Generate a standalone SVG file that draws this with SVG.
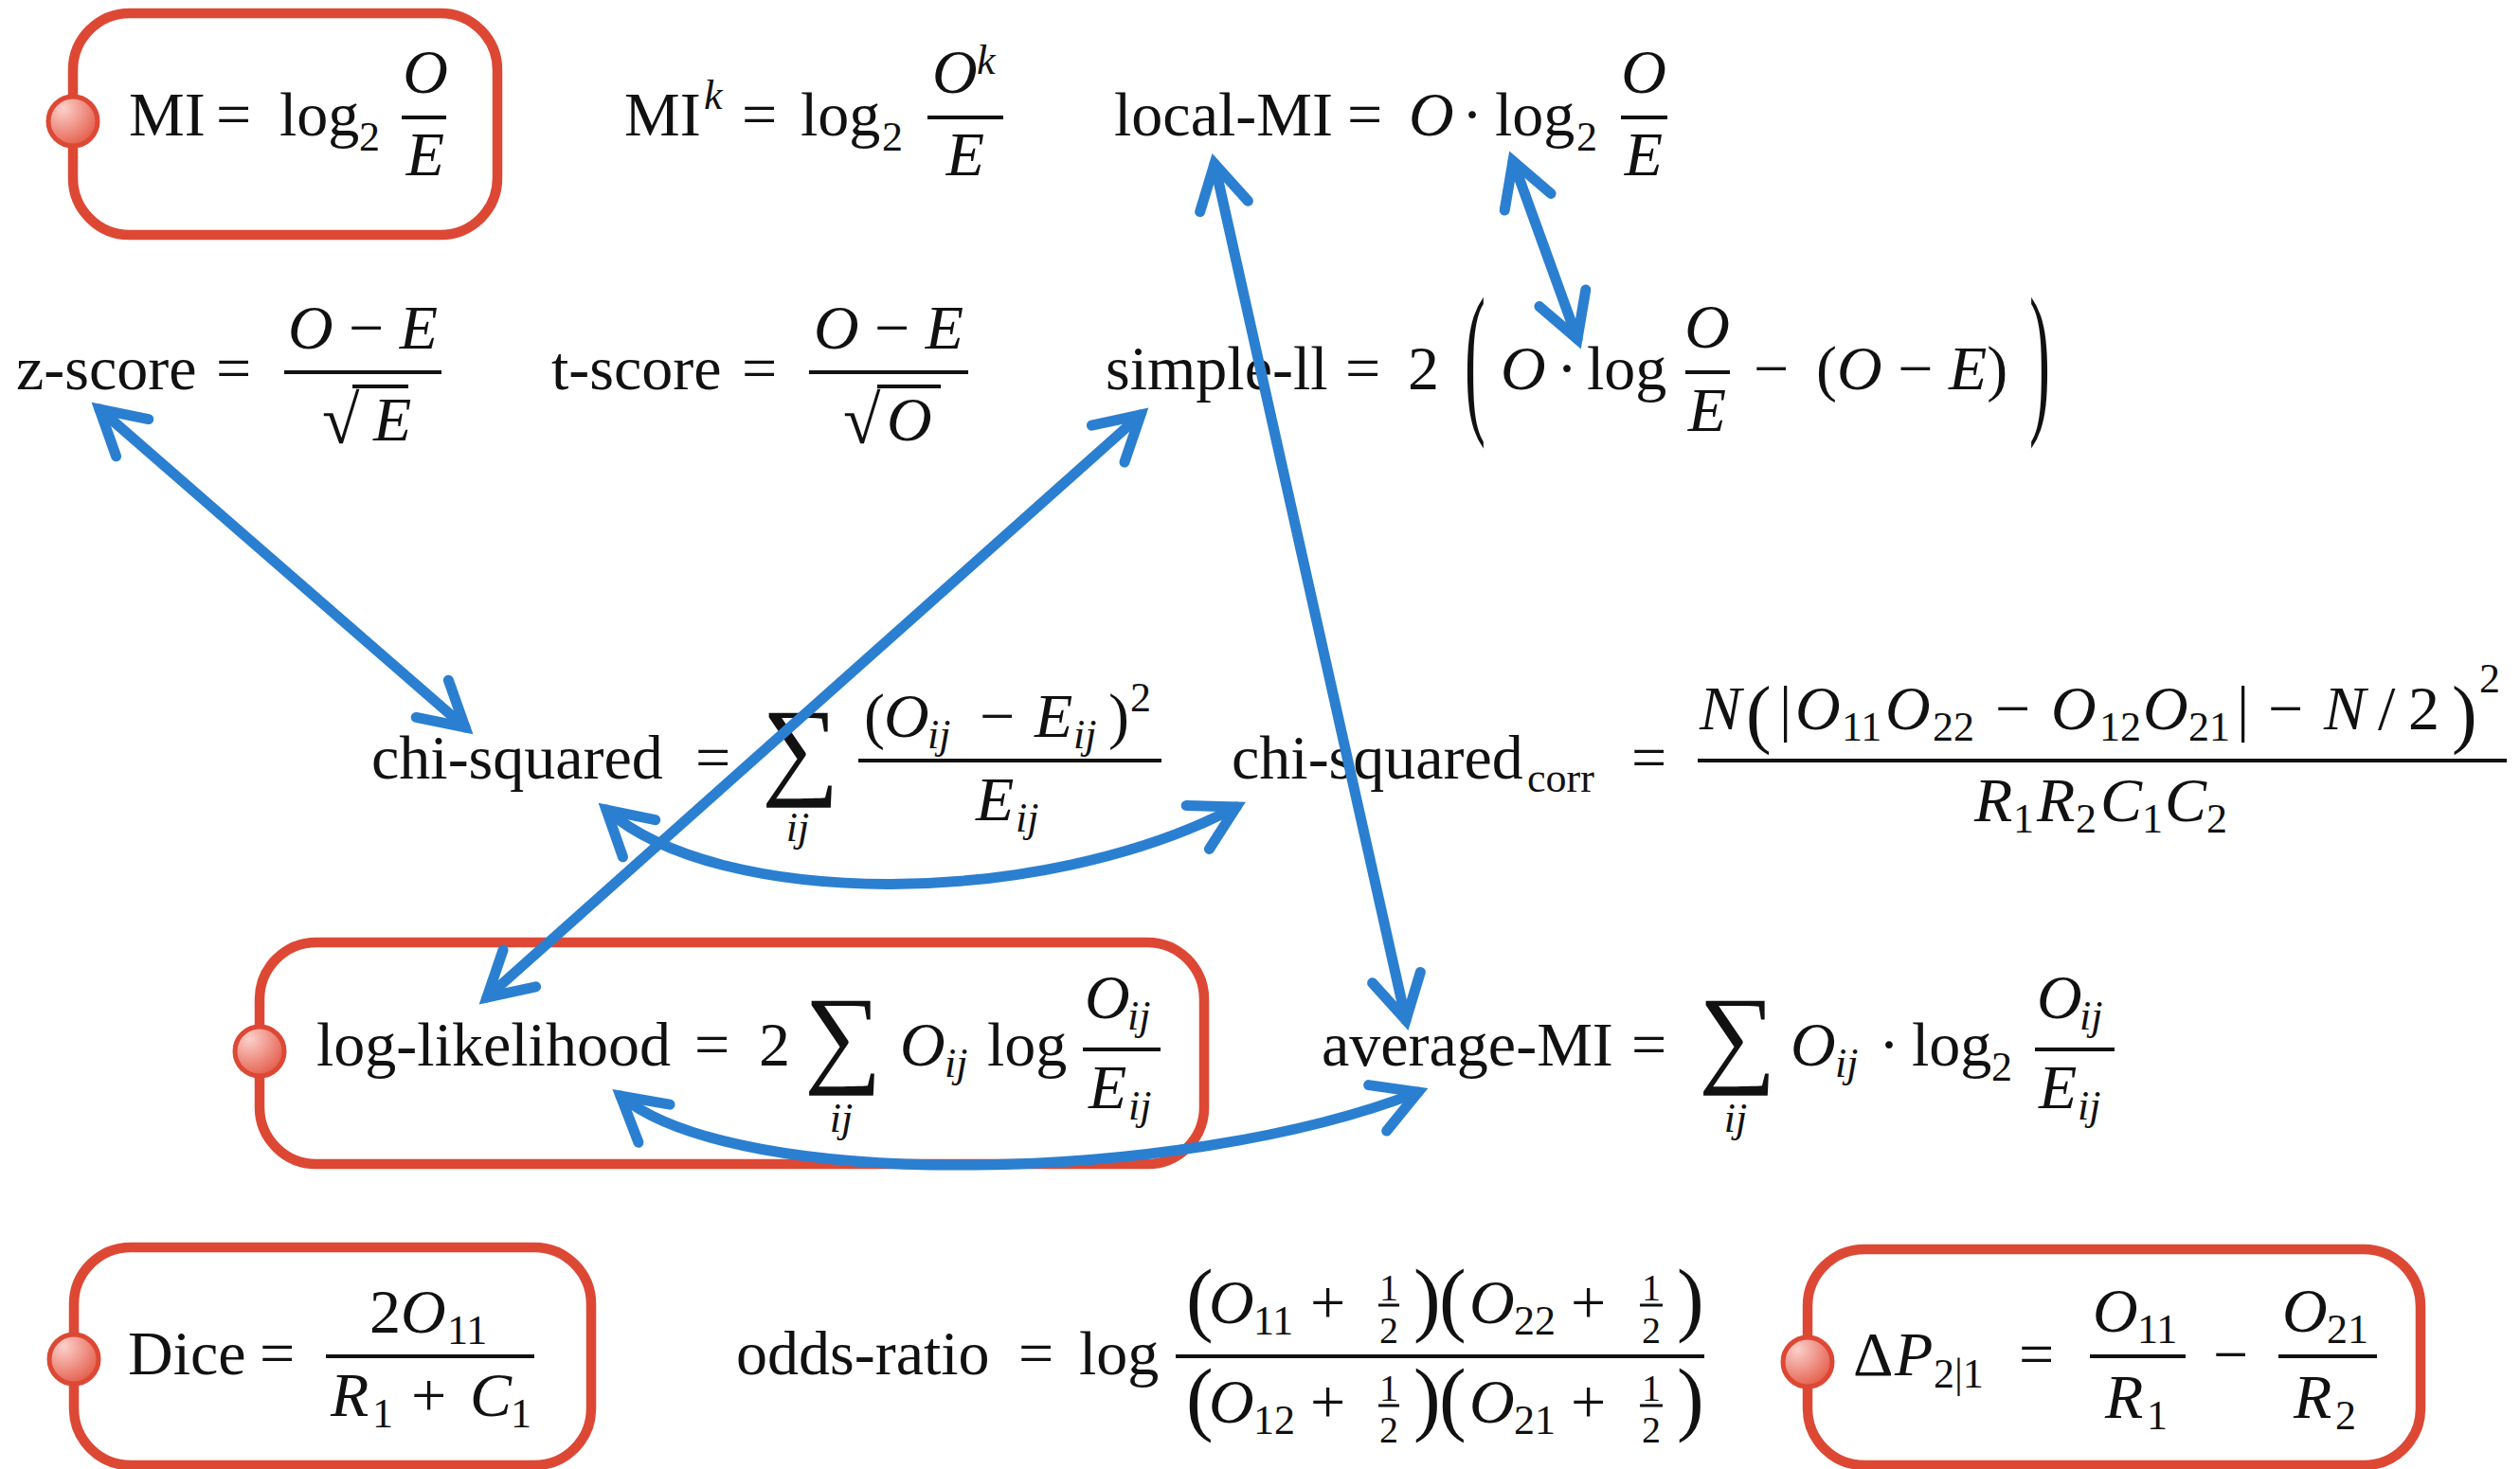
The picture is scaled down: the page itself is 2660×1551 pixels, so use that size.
<svg xmlns="http://www.w3.org/2000/svg" width="2660" height="1551" viewBox="0 0 2660 1551">
<style>
.t{font-family:"Liberation Serif",serif;font-size:66px;fill:#111}
.i{font-style:italic}
.s{font-size:44px}
.m{text-anchor:middle}
.bar{stroke:#111;stroke-width:4}
.box{fill:#fff;stroke:#dd4835;stroke-width:10.5}
.dot{fill:url(#g);stroke:#dd4835;stroke-width:5}
.c{fill:none;stroke:#2b7fd0;stroke-width:11;stroke-linecap:round;marker-start:url(#ah);marker-end:url(#ah)}
</style>
<defs>
<radialGradient id="g" cx="0.3" cy="0.25" r="0.9">
<stop offset="0" stop-color="#fbd0ca"/>
<stop offset="1" stop-color="#e24f3c"/>
</radialGradient>
<marker id="ah" markerUnits="userSpaceOnUse" markerWidth="110" markerHeight="110" viewBox="-65 -55 110 110" refX="0" refY="0" orient="auto-start-reverse">
<path d="M -46 -26 L 0 0 L -46 26" fill="none" stroke="#2b7fd0" stroke-width="11" stroke-linecap="round" stroke-linejoin="miter"/>
</marker>
</defs>
<rect width="2660" height="1551" fill="#fff"/>

<g id="mi">
<rect class="box" x="77" y="14" width="448" height="234" rx="60"/>
<circle class="dot" cx="77" cy="128" r="26"/>
<text class="t" x="136" y="143">MI</text>
<text class="t" x="228" y="143">=</text>
<text class="t" x="295" y="143">log</text>
<text class="t s" x="379" y="159">2</text>
<line class="bar" x1="424" x2="471" y1="124" y2="124"/>
<text class="t i m" x="449" y="98">O</text>
<text class="t i m" x="449" y="185">E</text>
</g>

<g id="mik">
<text class="t" x="659" y="143">MI</text>
<text class="t i s" x="743" y="115">k</text>
<text class="t" x="783" y="143">=</text>
<text class="t" x="845" y="143">log</text>
<text class="t s" x="931" y="159">2</text>
<line class="bar" x1="979" x2="1059" y1="124" y2="124"/>
<text class="t i" x="984" y="98">O</text>
<text class="t i s" x="1031" y="78">k</text>
<text class="t i m" x="1019" y="185">E</text>
</g>

<g id="localmi">
<text class="t" x="1176" y="143">local-MI</text>
<text class="t" x="1422" y="143">=</text>
<text class="t i" x="1487" y="143">O</text>
<text class="t m" x="1554" y="143">·</text>
<text class="t" x="1578" y="143">log</text>
<text class="t s" x="1664" y="159">2</text>
<line class="bar" x1="1711" x2="1760" y1="124" y2="124"/>
<text class="t i m" x="1735" y="98">O</text>
<text class="t i m" x="1735" y="185">E</text>
</g>

<g id="zscore">
<text class="t" x="17" y="411">z-score</text>
<text class="t" x="228" y="411">=</text>
<line class="bar" x1="300" x2="466" y1="393" y2="393"/>
<text class="t m" x="383" y="368"><tspan class="i">O</tspan> − <tspan class="i">E</tspan></text>
<text class="t" x="340" y="468" style="font-size:72px">√</text>
<line class="bar" x1="372" x2="431" y1="408" y2="408"/>
<text class="t i" x="394" y="465">E</text>
</g>

<g id="tscore">
<text class="t" x="582" y="411">t-score</text>
<text class="t" x="783" y="411">=</text>
<line class="bar" x1="854" x2="1022" y1="393" y2="393"/>
<text class="t m" x="938" y="368"><tspan class="i">O</tspan> − <tspan class="i">E</tspan></text>
<text class="t" x="890" y="468" style="font-size:72px">√</text>
<line class="bar" x1="926" x2="993" y1="408" y2="408"/>
<text class="t i" x="936" y="465">O</text>
</g>

<g id="simplell">
<text class="t" x="1167" y="411">simple-ll</text>
<text class="t" x="1420" y="411">=</text>
<text class="t" x="1486" y="411">2</text>
<text class="t" transform="translate(1546,436) scale(1,2.65)">(</text>
<text class="t i" x="1584" y="411">O</text>
<text class="t m" x="1654" y="411">·</text>
<text class="t" x="1675" y="411">log</text>
<line class="bar" x1="1779" x2="1826" y1="393" y2="393"/>
<text class="t i m" x="1802" y="367">O</text>
<text class="t i m" x="1802" y="455">E</text>
<text class="t" x="1851" y="411">−</text>
<text class="t" x="1917" y="411">(<tspan class="i">O</tspan> − <tspan class="i">E</tspan>)</text>
<text class="t" transform="translate(2142,436) scale(1,2.65)">)</text>
</g>

<g id="chisq">
<text class="t" x="392" y="822">chi-squared</text>
<text class="t" x="734" y="822">=</text>
<text class="t" x="804" y="828" style="font-size:115px">∑</text>
<text class="t i s m" x="842" y="888">ij</text>
<line class="bar" x1="906" x2="1226" y1="803" y2="803"/>
<text class="t" x="912" y="778">(</text>
<text class="t i" x="933" y="778">O</text>
<text class="t i s" x="979" y="790">ij</text>
<text class="t" x="1034" y="778">−</text>
<text class="t i" x="1092" y="778">E</text>
<text class="t i s" x="1133" y="790">ij</text>
<text class="t" x="1170" y="778">)</text>
<text class="t s" x="1193" y="751">2</text>
<text class="t i" x="1030" y="866">E</text>
<text class="t i s" x="1072" y="878">ij</text>
</g>

<g id="chisqcorr">
<text class="t" x="1300" y="822">chi-squared</text>
<text class="t s" x="1612" y="836">corr</text>
<text class="t" x="1722" y="822">=</text>
<line class="bar" x1="1792" x2="2646" y1="803" y2="803"/>
<text class="t i" x="1794" y="770">N</text>
<text class="t" x="1843" y="780" style="font-size:80px">(</text>
<text class="t" x="1878" y="770">|</text>
<text class="t i" x="1895" y="770">O</text>
<text class="t s" x="1944" y="782">11</text>
<text class="t i" x="1990" y="770">O</text>
<text class="t s" x="2040" y="782">22</text>
<text class="t" x="2106" y="770">−</text>
<text class="t i" x="2165" y="770">O</text>
<text class="t s" x="2216" y="782">12</text>
<text class="t i" x="2262" y="770">O</text>
<text class="t s" x="2310" y="782">21</text>
<text class="t" x="2361" y="770">|</text>
<text class="t" x="2394" y="770">−</text>
<text class="t i" x="2453" y="770">N</text>
<text class="t" x="2510" y="770">/</text>
<text class="t" x="2542" y="770">2</text>
<text class="t" x="2588" y="780" style="font-size:80px">)</text>
<text class="t s" x="2617" y="731">2</text>
<text class="t i" x="2084" y="867">R</text>
<text class="t s" x="2125" y="879">1</text>
<text class="t i" x="2150" y="867">R</text>
<text class="t s" x="2191" y="879">2</text>
<text class="t i" x="2217" y="867">C</text>
<text class="t s" x="2261" y="879">1</text>
<text class="t i" x="2285" y="867">C</text>
<text class="t s" x="2329" y="879">2</text>
</g>

<g id="loglik">
<rect class="box" x="274" y="995" width="997" height="234" rx="60"/>
<circle class="dot" cx="274" cy="1110" r="26"/>
<text class="t" x="334" y="1125">log-likelihood</text>
<text class="t" x="733" y="1125">=</text>
<text class="t" x="801" y="1125">2</text>
<text class="t" x="849" y="1132" style="font-size:115px">∑</text>
<text class="t i s m" x="888" y="1195">ij</text>
<text class="t i" x="950" y="1125">O</text>
<text class="t i s" x="997" y="1137">ij</text>
<text class="t" x="1042" y="1125">log</text>
<line class="bar" x1="1143" x2="1225" y1="1108" y2="1108"/>
<text class="t i" x="1145" y="1075">O</text>
<text class="t i s" x="1190" y="1087">ij</text>
<text class="t i" x="1149" y="1170">E</text>
<text class="t i s" x="1191" y="1182">ij</text>
</g>

<g id="avgmi">
<text class="t" x="1395" y="1125">average-MI</text>
<text class="t" x="1722" y="1125">=</text>
<text class="t" x="1793" y="1132" style="font-size:115px">∑</text>
<text class="t i s m" x="1832" y="1195">ij</text>
<text class="t i" x="1890" y="1125">O</text>
<text class="t i s" x="1937" y="1137">ij</text>
<text class="t m" x="1994" y="1125">·</text>
<text class="t" x="2018" y="1125">log</text>
<text class="t s" x="2102" y="1141">2</text>
<line class="bar" x1="2148" x2="2232" y1="1108" y2="1108"/>
<text class="t i" x="2150" y="1075">O</text>
<text class="t i s" x="2195" y="1087">ij</text>
<text class="t i" x="2152" y="1170">E</text>
<text class="t i s" x="2193" y="1182">ij</text>
</g>

<g id="dice">
<rect class="box" x="78" y="1317" width="546" height="230" rx="60"/>
<circle class="dot" cx="78" cy="1435" r="26"/>
<text class="t" x="135" y="1451">Dice</text>
<text class="t" x="274" y="1451">=</text>
<line class="bar" x1="344" x2="564" y1="1432" y2="1432"/>
<text class="t" x="390" y="1407">2</text>
<text class="t i" x="423" y="1407">O</text>
<text class="t s" x="472" y="1419">11</text>
<text class="t i" x="349" y="1495">R</text>
<text class="t s" x="393" y="1507">1</text>
<text class="t" x="434" y="1495">+</text>
<text class="t i" x="496" y="1495">C</text>
<text class="t s" x="539" y="1507">1</text>
</g>

<g id="odds">
<text class="t" x="777" y="1451">odds-ratio</text>
<text class="t" x="1075" y="1451">=</text>
<text class="t" x="1139" y="1451">log</text>
<line class="bar" x1="1241" x2="1799" y1="1432" y2="1432"/>
<text class="t" x="1252" y="1400" style="font-size:86px">(</text>
<text class="t i" x="1276" y="1397">O</text>
<text class="t s" x="1323" y="1409">11</text>
<text class="t" x="1383" y="1397">+</text>
<text class="t m" x="1466" y="1373" style="font-size:40px">1</text>
<line class="bar" x1="1455" x2="1477" y1="1378" y2="1378" style="stroke-width:3"/>
<text class="t m" x="1466" y="1418" style="font-size:40px">2</text>
<text class="t" x="1492" y="1400" style="font-size:86px">)</text>
<text class="t" x="1519" y="1400" style="font-size:86px">(</text>
<text class="t i" x="1551" y="1397">O</text>
<text class="t s" x="1598" y="1409">22</text>
<text class="t" x="1658" y="1397">+</text>
<text class="t m" x="1743" y="1373" style="font-size:40px">1</text>
<line class="bar" x1="1731" x2="1755" y1="1378" y2="1378" style="stroke-width:3"/>
<text class="t m" x="1743" y="1418" style="font-size:40px">2</text>
<text class="t" x="1770" y="1400" style="font-size:86px">)</text>
<text class="t" x="1252" y="1505" style="font-size:86px">(</text>
<text class="t i" x="1276" y="1502">O</text>
<text class="t s" x="1323" y="1514">12</text>
<text class="t" x="1383" y="1502">+</text>
<text class="t m" x="1466" y="1479" style="font-size:40px">1</text>
<line class="bar" x1="1455" x2="1477" y1="1484" y2="1484" style="stroke-width:3"/>
<text class="t m" x="1466" y="1523" style="font-size:40px">2</text>
<text class="t" x="1492" y="1505" style="font-size:86px">)</text>
<text class="t" x="1519" y="1505" style="font-size:86px">(</text>
<text class="t i" x="1551" y="1502">O</text>
<text class="t s" x="1598" y="1514">21</text>
<text class="t" x="1658" y="1502">+</text>
<text class="t m" x="1743" y="1479" style="font-size:40px">1</text>
<line class="bar" x1="1731" x2="1755" y1="1484" y2="1484" style="stroke-width:3"/>
<text class="t m" x="1743" y="1523" style="font-size:40px">2</text>
<text class="t" x="1770" y="1505" style="font-size:86px">)</text>
</g>

<g id="deltap">
<rect class="box" x="1908" y="1319" width="647" height="228" rx="60"/>
<circle class="dot" cx="1908" cy="1438" r="26"/>
<text class="t" x="1956" y="1452">Δ</text>
<text class="t i" x="2000" y="1452">P</text>
<text class="t s" x="2041" y="1465">2|1</text>
<text class="t" x="2131" y="1452">=</text>
<line class="bar" x1="2206" x2="2307" y1="1432" y2="1432"/>
<text class="t i" x="2209" y="1406">O</text>
<text class="t s" x="2256" y="1418">11</text>
<text class="t i" x="2222" y="1497">R</text>
<text class="t s" x="2266" y="1509">1</text>
<text class="t" x="2336" y="1452">−</text>
<line class="bar" x1="2405" x2="2509" y1="1432" y2="1432"/>
<text class="t i" x="2409" y="1406">O</text>
<text class="t s" x="2456" y="1418">21</text>
<text class="t i" x="2421" y="1497">R</text>
<text class="t s" x="2465" y="1509">2</text>
</g>

<g id="connectors">
<path class="c" d="M 105 432 L 491 768"/>
<path class="c" d="M 514 1053 L 1204 438"/>
<path class="c" d="M 1282 173 L 1484 1077"/>
<path class="c" d="M 1597 170 L 1665 358"/>
<path class="c" d="M 640 855 C 760 960, 1100 960, 1305 852"/>
<path class="c" d="M 655 1157 C 780 1260, 1250 1250, 1497 1153"/>
</g>
</svg>
